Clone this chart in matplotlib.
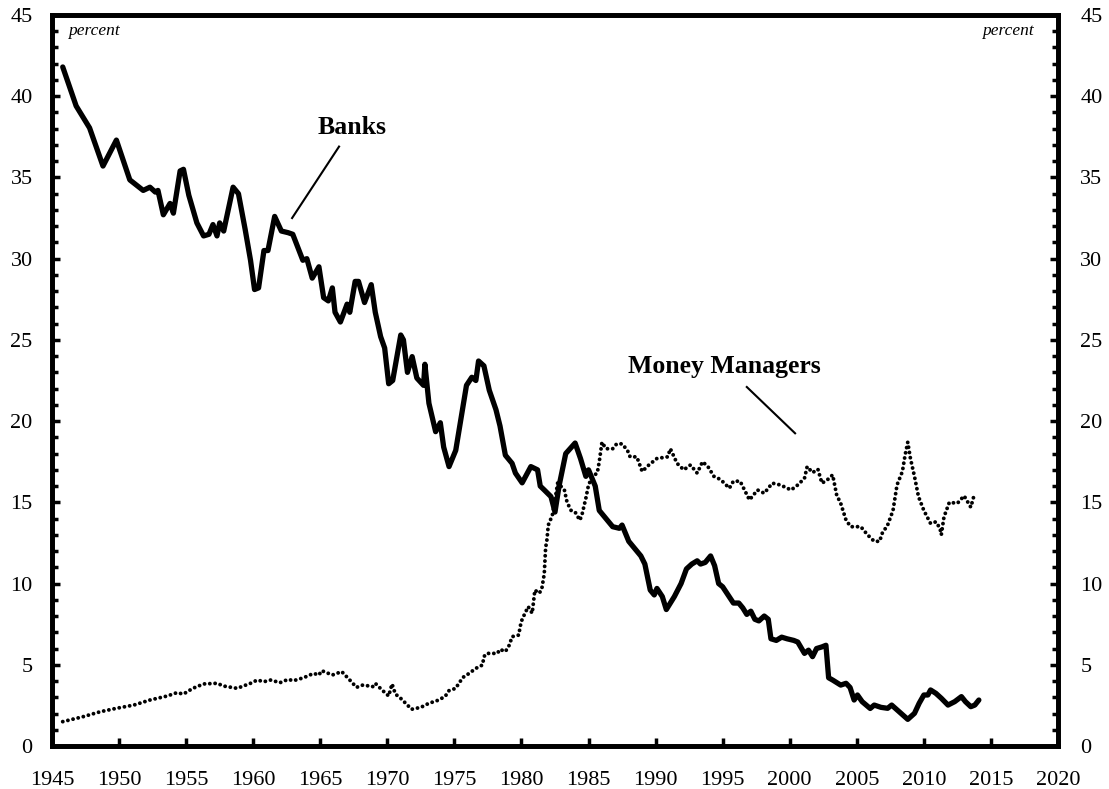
import matplotlib
matplotlib.use('Agg')
import matplotlib.pyplot as plt
from matplotlib.ticker import MultipleLocator

plt.rcParams['font.family'] = ['Liberation Serif', 'DejaVu Serif']

# Banks share, percent
bank_years = [1945.8, 1946.8, 1947.8, 1948.8, 1949.8, 1950.8, 1951.8, 1952.3, 1952.7, 1952.9,
              1953.3, 1953.8, 1954.05, 1954.55, 1954.8, 1955.2, 1955.8, 1956.3, 1956.7, 1957.0,
              1957.3, 1957.5, 1957.8, 1958.5, 1958.9, 1959.4, 1959.8, 1960.1, 1960.4, 1960.8,
              1961.1, 1961.6, 1962.1, 1962.6, 1962.95, 1963.7, 1964.0, 1964.4, 1964.9, 1965.25,
              1965.6, 1965.9, 1966.1, 1966.5, 1967.0, 1967.2, 1967.6, 1967.85, 1968.3, 1968.8,
              1969.1, 1969.5, 1969.8, 1970.1, 1970.4, 1971.0, 1971.2, 1971.5, 1971.85, 1972.2,
              1972.7, 1972.8, 1973.1, 1973.6, 1973.95, 1974.2, 1974.6, 1975.1, 1975.6, 1975.9,
              1976.3, 1976.6, 1976.8, 1977.2, 1977.6, 1978.1, 1978.4, 1978.8, 1979.3, 1979.55,
              1980.05, 1980.7, 1981.2, 1981.4, 1981.7, 1982.2, 1982.5, 1982.8, 1983.3, 1984.0,
              1984.4, 1984.8, 1985.0, 1985.5, 1985.8, 1986.4, 1986.8, 1987.3, 1987.5, 1988.0,
              1988.5, 1988.9, 1989.2, 1989.6, 1989.9, 1990.1, 1990.5, 1990.8, 1991.4, 1991.9,
              1992.3, 1992.7, 1993.1, 1993.35, 1993.7, 1994.1, 1994.4, 1994.7, 1995.0, 1995.4,
              1995.8, 1996.2, 1996.5, 1996.8, 1997.1, 1997.4, 1997.7, 1998.1, 1998.4, 1998.6,
              1999.0, 1999.4, 1999.8, 2000.3, 2000.6, 2001.1, 2001.4, 2001.7, 2002.0, 2002.4,
              2002.7, 2002.9, 2003.2, 2003.8, 2004.2, 2004.5, 2004.8, 2005.05, 2005.4, 2006.0,
              2006.3, 2006.8, 2007.3, 2007.6, 2008.3, 2008.8, 2009.3, 2009.65, 2010.0, 2010.3,
              2010.5, 2010.9, 2011.3, 2011.8, 2012.3, 2012.8, 2013.1, 2013.5, 2013.8, 2014.1]
bank_vals = [41.8, 39.4, 38.05, 35.7, 37.3, 34.85, 34.2, 34.4, 34.1, 34.2,
             32.7, 33.4, 32.8, 35.4, 35.5, 33.9, 32.2, 31.4, 31.5, 32.1,
             31.4, 32.2, 31.7, 34.4, 34.0, 31.8, 29.9, 28.1, 28.2, 30.5,
             30.5, 32.6, 31.7, 31.6, 31.5, 29.9, 30.0, 28.8, 29.5, 27.6,
             27.4, 28.2, 26.7, 26.1, 27.2, 26.7, 28.6, 28.6, 27.3, 28.4,
             26.7, 25.2, 24.5, 22.3, 22.5, 25.3, 25.0, 23.0, 23.97, 22.65,
             22.2, 23.5, 21.1, 19.35, 19.9, 18.4, 17.2, 18.2, 20.7, 22.2,
             22.7, 22.5, 23.7, 23.4, 21.9, 20.7, 19.7, 17.9, 17.4, 16.8,
             16.2, 17.2, 17.0, 16.0, 15.76, 15.35, 14.4, 16.0, 18.0, 18.65,
             17.7, 16.6, 17.0, 16.0, 14.5, 13.9, 13.5, 13.4, 13.6, 12.6,
             12.1, 11.7, 11.2, 9.6, 9.3, 9.7, 9.2, 8.4, 9.2, 10.0,
             10.9, 11.2, 11.4, 11.2, 11.3, 11.7, 11.1, 10.0, 9.8, 9.3,
             8.8, 8.8, 8.5, 8.1, 8.3, 7.8, 7.7, 8.0, 7.8, 6.6,
             6.5, 6.7, 6.6, 6.5, 6.4, 5.7, 5.9, 5.5, 6.0, 6.1,
             6.2, 4.2, 4.06, 3.75, 3.86, 3.6, 2.83, 3.14, 2.73, 2.31,
             2.52, 2.38, 2.32, 2.52, 2.01, 1.64, 2.01, 2.63, 3.14, 3.14,
             3.45, 3.24, 2.94, 2.52, 2.73, 3.04, 2.73, 2.42, 2.52, 2.83]

# Money managers share, percent
mm_years = [1945.8, 1947.3, 1948.6, 1949.8, 1951.1, 1952.3, 1953.6, 1954.3, 1954.8, 1955.5,
            1956.3, 1957.3, 1957.8, 1958.8, 1959.8, 1960.3, 1960.8, 1961.3, 1962.0, 1962.6,
            1963.0, 1963.75, 1964.5, 1964.9, 1965.1, 1965.9, 1966.6, 1967.2, 1967.7, 1968.2,
            1968.9, 1969.1, 1969.6, 1970.1, 1970.35, 1970.6, 1971.0, 1971.5, 1971.8, 1972.5,
            1973.1, 1973.7, 1974.3, 1974.6, 1975.1, 1975.3, 1975.65, 1976.1, 1976.6, 1977.1,
            1977.2, 1977.4, 1978.2, 1978.4, 1978.8, 1979.1, 1979.3, 1979.8, 1979.9, 1980.05,
            1980.5, 1980.8, 1981.0, 1981.3, 1981.5, 1981.7, 1981.8, 1981.9, 1982.0, 1982.3,
            1982.5, 1982.7, 1983.2, 1983.4, 1983.7, 1984.0, 1984.35, 1984.5, 1984.8, 1985.0,
            1985.3, 1985.65, 1985.8, 1986.0, 1986.3, 1986.8, 1987.1, 1987.5, 1987.9, 1988.1,
            1988.6, 1989.0, 1989.5, 1990.1, 1990.9, 1991.1, 1991.6, 1992.1, 1992.6, 1993.1,
            1993.5, 1993.9, 1994.35, 1994.85, 1995.5, 1995.8, 1996.3, 1997.0, 1997.6, 1998.1,
            1998.7, 1999.3, 2000.1, 2000.6, 2001.1, 2001.3, 2001.7, 2002.1, 2002.4, 2002.8,
            2003.2, 2003.5, 2003.8, 2004.2, 2004.55, 2005.3, 2005.8, 2006.3, 2006.7, 2006.9,
            2007.3, 2007.7, 2008.0, 2008.4, 2008.6, 2008.8, 2009.0, 2009.3, 2009.6, 2010.0,
            2010.5, 2010.9, 2011.2, 2011.3, 2011.5, 2011.9, 2012.5, 2013.0, 2013.5, 2013.75]
mm_vals = [1.50, 1.80, 2.11, 2.32, 2.52, 2.83, 3.08, 3.28, 3.2, 3.55,
           3.82, 3.86, 3.69, 3.55, 3.86, 4.06, 3.96, 4.06, 3.9, 4.1,
           4.02, 4.2, 4.47, 4.37, 4.64, 4.37, 4.58, 4.06, 3.61, 3.76,
           3.65, 3.86, 3.45, 3.08, 3.82, 3.2, 2.93, 2.52, 2.26, 2.38,
           2.63, 2.79, 3.04, 3.41, 3.55, 3.82, 4.23, 4.47, 4.78, 4.99,
           5.5, 5.7, 5.7, 5.95, 5.81, 6.22, 6.73, 6.83, 7.35, 7.8,
           8.58, 8.17, 9.6, 9.4, 9.6, 10.6, 12.2, 12.7, 13.6, 14.2,
           15.15, 16.2, 15.76, 15.0, 14.5, 14.4, 13.9, 14.2, 15.25, 16.07,
           16.6, 16.8, 17.5, 18.7, 18.3, 18.3, 18.6, 18.6, 18.2, 17.8,
           17.8, 16.9, 17.3, 17.7, 17.8, 18.3, 17.4, 17.0, 17.3, 16.8,
           17.5, 17.2, 16.6, 16.4, 15.87, 16.3, 16.3, 15.15, 15.76, 15.56,
           16.18, 16.07, 15.76, 16.07, 16.48, 17.2, 16.83, 17.04, 16.18, 16.38,
           16.69, 15.45, 14.94, 13.9, 13.5, 13.5, 13.0, 12.6, 12.6, 13.1,
           13.6, 14.5, 16.07, 16.9, 17.9, 18.7, 17.7, 16.6, 15.35, 14.5,
           13.7, 13.8, 13.4, 13.0, 14.1, 15.0, 14.94, 15.4, 14.7, 15.45]

fig = plt.figure(figsize=(11.09, 7.89), dpi=100)
ax = fig.add_axes([0.0469, 0.0545, 0.9071, 0.9265])

ax.plot(bank_years, bank_vals, color='black', lw=3.8, solid_joinstyle='round', solid_capstyle='round')
ax.plot(mm_years, mm_vals, color='black', lw=2.8, linestyle=(0, (0.01, 1.35)), dash_capstyle='round')

ax.set_xlim(1945, 2020)
ax.set_ylim(0, 45)
ax.xaxis.set_major_locator(MultipleLocator(5))
ax.yaxis.set_major_locator(MultipleLocator(5))
ax.yaxis.set_minor_locator(MultipleLocator(1))

for s in ax.spines.values():
    s.set_linewidth(3.4)

ax.tick_params(axis='x', which='major', direction='in', length=6, width=2.5, pad=18, labelsize=16, top=False)
ax.tick_params(axis='y', which='major', direction='in', length=6, width=2.5, pad=14, labelsize=16)
ax.tick_params(axis='y', which='minor', direction='in', length=4, width=2.5)

ax2 = ax.twinx()
ax2.set_ylim(0, 45)
ax2.yaxis.set_major_locator(MultipleLocator(5))
ax2.yaxis.set_minor_locator(MultipleLocator(1))
ax2.tick_params(axis='y', which='major', direction='in', length=6, width=2.5, pad=16, labelsize=16)
ax2.tick_params(axis='y', which='minor', direction='in', length=4, width=2.5)
for s in ax2.spines.values():
    s.set_linewidth(3.4)

ax.text(1946.2, 44.0, 'percent', style='italic', fontsize=12.5, ha='left', va='center')
ax.text(2018.2, 44.0, 'percent', style='italic', fontsize=12.5, ha='right', va='center')

ax.text(1967.4, 38.1, 'Banks', fontsize=18.5, fontweight='bold', ha='center', va='center')
ax.plot([1966.4, 1962.9], [36.9, 32.5], color='black', lw=1.5)
ax.text(1995.1, 23.35, 'Money Managers', fontsize=18.5, fontweight='bold', ha='center', va='center')
ax.plot([1996.8, 2000.4], [22.1, 19.25], color='black', lw=1.5)

fig.savefig('out.png', dpi=100)
